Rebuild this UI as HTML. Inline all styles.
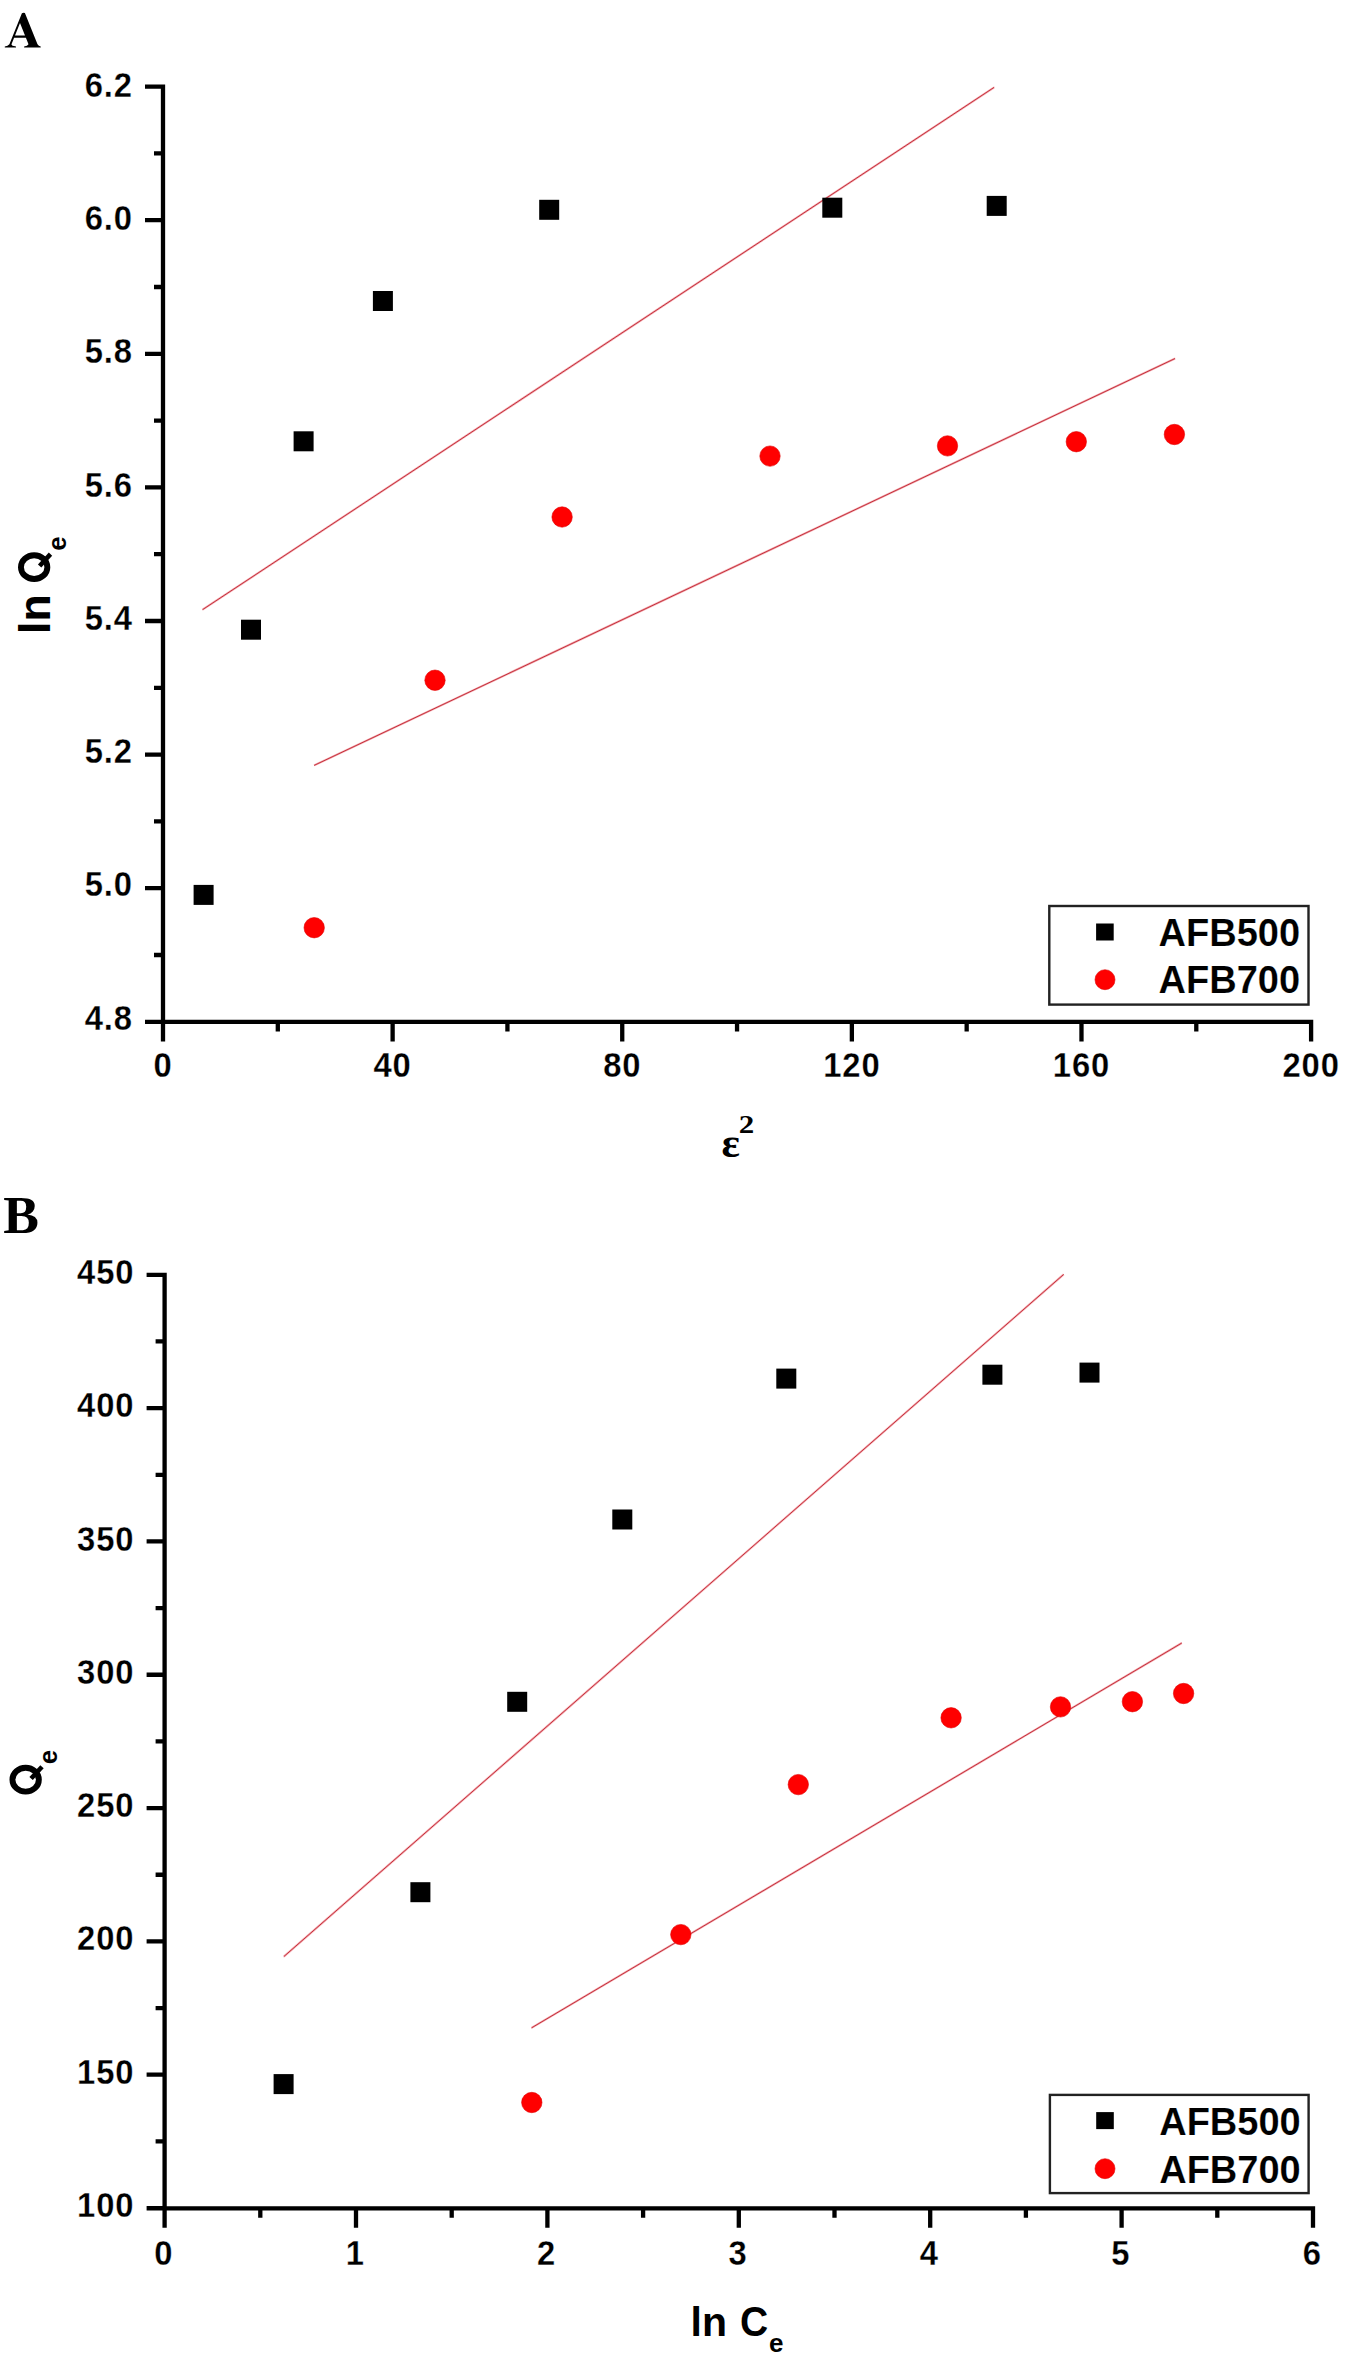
<!DOCTYPE html>
<html><head><meta charset="utf-8"><title>Plots</title>
<style>
html,body{margin:0;padding:0;background:#fff;}
body{width:1347px;height:2363px;overflow:hidden;}
svg{display:block;}
.tk{font-family:"Liberation Sans",sans-serif;font-weight:bold;font-size:34.5px;fill:#000;stroke:#fff;stroke-width:0.25px;letter-spacing:0.9px;}
.lg{font-family:"Liberation Sans",sans-serif;font-weight:bold;font-size:38px;fill:#000;stroke:#fff;stroke-width:0.15px;}
.at{font-family:"Liberation Sans",sans-serif;font-weight:bold;font-size:44.5px;fill:#000;}
.atx{font-family:"Liberation Sans",sans-serif;font-weight:bold;font-size:41px;fill:#000;}
.sub{font-size:26px;}
.pl{font-family:"Liberation Serif",serif;font-weight:bold;font-size:53.5px;fill:#000;}
.eps{font-family:"Liberation Serif",serif;font-weight:bold;font-size:43px;fill:#000;}
.sup{font-family:"Liberation Serif",serif;font-weight:bold;font-size:24.4px;fill:#000;}
</style></head><body>
<svg width="1347" height="2363" viewBox="0 0 1347 2363">
<rect width="1347" height="2363" fill="#fff"/>
<path fill-rule="evenodd" d="M4.8 47.4L4.8 46.4Q7.8 46.1 9.4 44.2L21.9 13.3Q23.4 12.3 24.9 13.1L37.5 44.3Q38.6 46.1 40.7 46.4L40.7 47.4L24.1 47.4L24.1 46.4Q27.6 46.2 28.5 44.3L25.9 37.75L14.1 37.75L11.5 44.3Q11.4 46.1 16.0 46.4L16.0 47.4ZM20.0 23.0L25.0 35.6L15.0 35.6Z" fill="#000"/>
<text x="3.2" y="1233" class="pl">B</text>
<path d="M163.00 84.45V1041.40M145.00 1021.90H1313.25M145.00 86.60H163.00M154.00 153.40H163.00M145.00 220.20H163.00M154.00 287.00H163.00M145.00 353.80H163.00M154.00 420.60H163.00M145.00 487.40H163.00M154.00 554.20H163.00M145.00 621.00H163.00M154.00 687.80H163.00M145.00 754.60H163.00M154.00 821.40H163.00M145.00 888.20H163.00M154.00 955.00H163.00M145.00 1021.80H163.00M163.00 1021.90V1041.40M277.81 1021.90V1031.40M392.62 1021.90V1041.40M507.43 1021.90V1031.40M622.24 1021.90V1041.40M737.05 1021.90V1031.40M851.86 1021.90V1041.40M966.67 1021.90V1031.40M1081.48 1021.90V1041.40M1196.29 1021.90V1031.40M1311.10 1021.90V1041.40" stroke="#000" stroke-width="4.3" fill="none"/>
<text transform="translate(132.9,96.80) scale(0.95,1)" text-anchor="end" class="tk">6.2</text>
<text transform="translate(132.9,230.07) scale(0.95,1)" text-anchor="end" class="tk">6.0</text>
<text transform="translate(132.9,363.34) scale(0.95,1)" text-anchor="end" class="tk">5.8</text>
<text transform="translate(132.9,496.61) scale(0.95,1)" text-anchor="end" class="tk">5.6</text>
<text transform="translate(132.9,629.88) scale(0.95,1)" text-anchor="end" class="tk">5.4</text>
<text transform="translate(132.9,763.15) scale(0.95,1)" text-anchor="end" class="tk">5.2</text>
<text transform="translate(132.9,896.42) scale(0.95,1)" text-anchor="end" class="tk">5.0</text>
<text transform="translate(132.9,1029.69) scale(0.95,1)" text-anchor="end" class="tk">4.8</text>
<text transform="translate(163.00,1077.1) scale(0.95,1)" text-anchor="middle" class="tk">0</text>
<text transform="translate(392.62,1077.1) scale(0.95,1)" text-anchor="middle" class="tk">40</text>
<text transform="translate(622.24,1077.1) scale(0.95,1)" text-anchor="middle" class="tk">80</text>
<text transform="translate(851.86,1077.1) scale(0.95,1)" text-anchor="middle" class="tk">120</text>
<text transform="translate(1081.48,1077.1) scale(0.95,1)" text-anchor="middle" class="tk">160</text>
<text transform="translate(1311.10,1077.1) scale(0.95,1)" text-anchor="middle" class="tk">200</text>
<line x1="202.5" y1="609.7" x2="994.2" y2="87.3" stroke="#f5aab0" stroke-width="2.1"/>
<line x1="202.5" y1="609.7" x2="994.2" y2="87.3" stroke="#c02c38" stroke-width="0.95"/>
<line x1="314.1" y1="765.4" x2="1175.1" y2="358.5" stroke="#f5aab0" stroke-width="2.1"/>
<line x1="314.1" y1="765.4" x2="1175.1" y2="358.5" stroke="#c02c38" stroke-width="0.95"/>
<rect x="193.60" y="884.90" width="20" height="20" fill="#000"/>
<rect x="241.00" y="619.70" width="20" height="20" fill="#000"/>
<rect x="293.60" y="431.30" width="20" height="20" fill="#000"/>
<rect x="372.90" y="291.00" width="20" height="20" fill="#000"/>
<rect x="539.20" y="199.80" width="20" height="20" fill="#000"/>
<rect x="822.30" y="197.70" width="20" height="20" fill="#000"/>
<rect x="986.70" y="195.90" width="20" height="20" fill="#000"/>
<circle cx="314.2" cy="927.7" r="10.2" fill="#ff0000" stroke="#e00000" stroke-width="0.6"/>
<circle cx="435" cy="680.2" r="10.2" fill="#ff0000" stroke="#e00000" stroke-width="0.6"/>
<circle cx="562.1" cy="517" r="10.2" fill="#ff0000" stroke="#e00000" stroke-width="0.6"/>
<circle cx="770" cy="456.1" r="10.2" fill="#ff0000" stroke="#e00000" stroke-width="0.6"/>
<circle cx="947.5" cy="445.9" r="10.2" fill="#ff0000" stroke="#e00000" stroke-width="0.6"/>
<circle cx="1076.3" cy="441.7" r="10.2" fill="#ff0000" stroke="#e00000" stroke-width="0.6"/>
<circle cx="1174.4" cy="434.5" r="10.2" fill="#ff0000" stroke="#e00000" stroke-width="0.6"/>
<rect x="1049.30" y="906.00" width="259.20" height="98.60" fill="none" stroke="#222" stroke-width="2.4"/>
<rect x="1096.10" y="923.50" width="17.6" height="17" fill="#000"/>
<circle cx="1105" cy="979.7" r="10.0" fill="#ff0000" stroke="#e00000" stroke-width="0.6"/>
<text x="1158.6" y="945.9" class="lg">AFB500</text>
<text x="1158.6" y="992.7" class="lg">AFB700</text>
<path d="M164.60 1272.65V2227.80M146.60 2208.30H1315.15M146.60 1274.80H164.60M155.60 1341.46H164.60M146.60 1408.12H164.60M155.60 1474.78H164.60M146.60 1541.44H164.60M155.60 1608.10H164.60M146.60 1674.76H164.60M155.60 1741.42H164.60M146.60 1808.08H164.60M155.60 1874.74H164.60M146.60 1941.40H164.60M155.60 2008.06H164.60M146.60 2074.72H164.60M155.60 2141.38H164.60M146.60 2208.04H164.60M164.60 2208.30V2227.80M260.30 2208.30V2217.80M356.00 2208.30V2227.80M451.70 2208.30V2217.80M547.40 2208.30V2227.80M643.10 2208.30V2217.80M738.80 2208.30V2227.80M834.50 2208.30V2217.80M930.20 2208.30V2227.80M1025.90 2208.30V2217.80M1121.60 2208.30V2227.80M1217.30 2208.30V2217.80M1313.00 2208.30V2227.80" stroke="#000" stroke-width="4.3" fill="none"/>
<text transform="translate(134.3,1283.90) scale(0.95,1)" text-anchor="end" class="tk">450</text>
<text transform="translate(134.3,1417.20) scale(0.95,1)" text-anchor="end" class="tk">400</text>
<text transform="translate(134.3,1550.50) scale(0.95,1)" text-anchor="end" class="tk">350</text>
<text transform="translate(134.3,1683.80) scale(0.95,1)" text-anchor="end" class="tk">300</text>
<text transform="translate(134.3,1817.10) scale(0.95,1)" text-anchor="end" class="tk">250</text>
<text transform="translate(134.3,1950.40) scale(0.95,1)" text-anchor="end" class="tk">200</text>
<text transform="translate(134.3,2083.70) scale(0.95,1)" text-anchor="end" class="tk">150</text>
<text transform="translate(134.3,2217.00) scale(0.95,1)" text-anchor="end" class="tk">100</text>
<text transform="translate(163.80,2264.9) scale(0.95,1)" text-anchor="middle" class="tk">0</text>
<text transform="translate(355.20,2264.9) scale(0.95,1)" text-anchor="middle" class="tk">1</text>
<text transform="translate(546.60,2264.9) scale(0.95,1)" text-anchor="middle" class="tk">2</text>
<text transform="translate(738.00,2264.9) scale(0.95,1)" text-anchor="middle" class="tk">3</text>
<text transform="translate(929.40,2264.9) scale(0.95,1)" text-anchor="middle" class="tk">4</text>
<text transform="translate(1120.80,2264.9) scale(0.95,1)" text-anchor="middle" class="tk">5</text>
<text transform="translate(1312.20,2264.9) scale(0.95,1)" text-anchor="middle" class="tk">6</text>
<line x1="283.8" y1="1956.6" x2="1063.7" y2="1274.4" stroke="#f5aab0" stroke-width="2.1"/>
<line x1="283.8" y1="1956.6" x2="1063.7" y2="1274.4" stroke="#c02c38" stroke-width="0.95"/>
<line x1="531.5" y1="2027.9" x2="1181.8" y2="1643" stroke="#f5aab0" stroke-width="2.1"/>
<line x1="531.5" y1="2027.9" x2="1181.8" y2="1643" stroke="#c02c38" stroke-width="0.95"/>
<rect x="273.60" y="2074.10" width="20" height="20" fill="#000"/>
<rect x="410.40" y="1882.20" width="20" height="20" fill="#000"/>
<rect x="507.20" y="1691.80" width="20" height="20" fill="#000"/>
<rect x="612.30" y="1509.50" width="20" height="20" fill="#000"/>
<rect x="776.30" y="1368.60" width="20" height="20" fill="#000"/>
<rect x="982.40" y="1364.70" width="20" height="20" fill="#000"/>
<rect x="1079.50" y="1362.60" width="20" height="20" fill="#000"/>
<circle cx="531.8" cy="2102.5" r="10.2" fill="#ff0000" stroke="#e00000" stroke-width="0.6"/>
<circle cx="680.8" cy="1934.6" r="10.2" fill="#ff0000" stroke="#e00000" stroke-width="0.6"/>
<circle cx="798.3" cy="1784.6" r="10.2" fill="#ff0000" stroke="#e00000" stroke-width="0.6"/>
<circle cx="951.1" cy="1717.8" r="10.2" fill="#ff0000" stroke="#e00000" stroke-width="0.6"/>
<circle cx="1060.5" cy="1706.9" r="10.2" fill="#ff0000" stroke="#e00000" stroke-width="0.6"/>
<circle cx="1132.4" cy="1701.7" r="10.2" fill="#ff0000" stroke="#e00000" stroke-width="0.6"/>
<circle cx="1183.6" cy="1693.5" r="10.2" fill="#ff0000" stroke="#e00000" stroke-width="0.6"/>
<rect x="1049.90" y="2094.90" width="258.70" height="98.20" fill="none" stroke="#222" stroke-width="2.4"/>
<rect x="1096.20" y="2112.10" width="17.6" height="17" fill="#000"/>
<circle cx="1105" cy="2168.7" r="10.0" fill="#ff0000" stroke="#e00000" stroke-width="0.6"/>
<text x="1159.2" y="2135.3" class="lg">AFB500</text>
<text x="1159.2" y="2182.6" class="lg">AFB700</text>
<g transform="translate(50.2,633.9) rotate(-90)"><text class="at">ln</text><ellipse cx="66.75" cy="-16.05" rx="11.9" ry="13.2" fill="none" stroke="#000" stroke-width="5.9"/><line x1="67.95" y1="-10.6" x2="79.75" y2="0.3" stroke="#000" stroke-width="4.6"/><text x="83.1" y="15.75" class="at sub">e</text></g>
<text x="721.6" y="1156.6" class="eps">&#949;</text>
<text transform="translate(738.8,1133) scale(1.27,1)" class="sup">2</text>
<g transform="translate(41.7,1796.5) rotate(-90)"><ellipse cx="16.80" cy="-16.05" rx="11.9" ry="13.2" fill="none" stroke="#000" stroke-width="5.9"/><line x1="18.00" y1="-10.6" x2="29.80" y2="0.3" stroke="#000" stroke-width="4.6"/><text x="32.3" y="15.75" class="at sub">e</text></g>
<text x="690.5" y="2335.6" class="atx">ln</text><text transform="translate(740.1,2335.6) scale(0.934,1)" class="atx" style="font-size:41.8px">C</text><text x="768.9" y="2351.5" class="atx sub">e</text>
</svg>
</body></html>
